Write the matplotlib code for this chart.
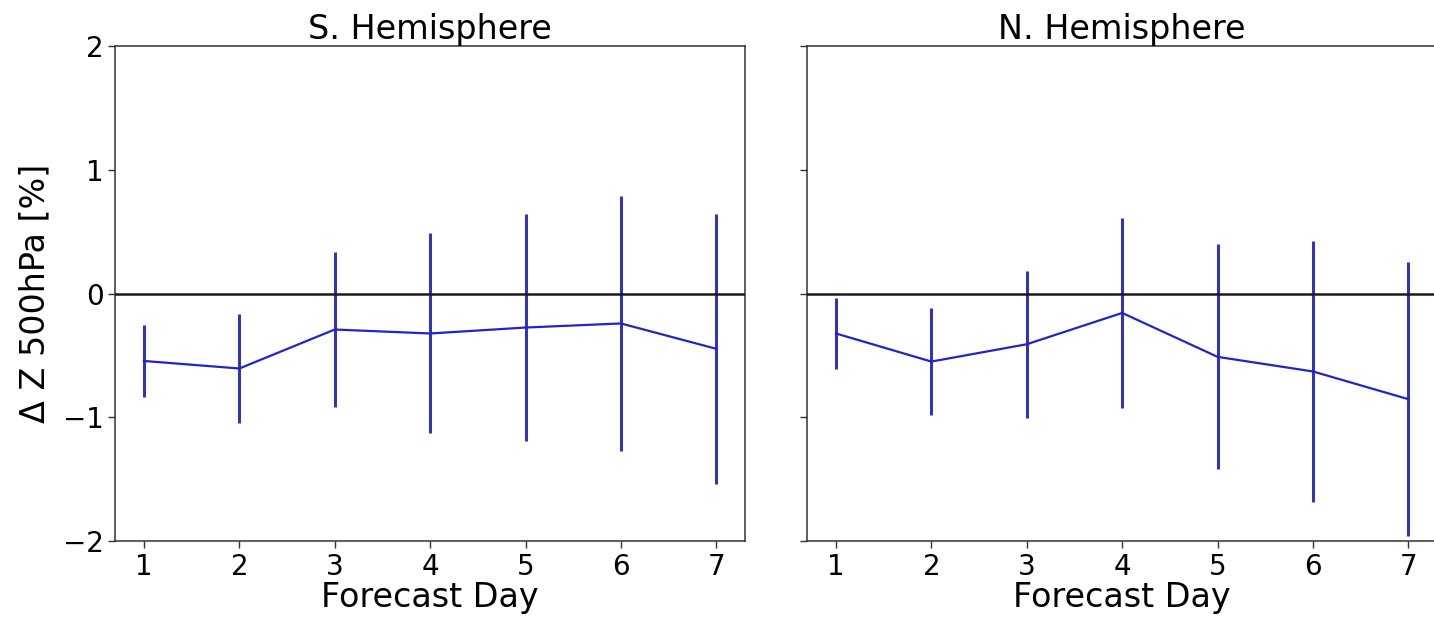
import numpy as np
import matplotlib
matplotlib.use('Agg')
import matplotlib.pyplot as plt

# forecast days and mean change in 500 hPa height with spread, per hemisphere
days = [1, 2, 3, 4, 5, 6, 7]

sh_mean = [-0.545, -0.606, -0.291, -0.323, -0.275, -0.242, -0.447]
sh_err = [0.293, 0.44, 0.628, 0.808, 0.918, 1.028, 1.093]

nh_mean = [-0.323, -0.55, -0.41, -0.157, -0.512, -0.63, -0.854]
nh_err = [0.283, 0.434, 0.593, 0.77, 0.909, 1.056, 1.107]

titles = ['S. Hemisphere', 'N. Hemisphere']

plt.rcParams['font.family'] = 'DejaVu Sans'
plt.rcParams['font.size'] = 20

fig = plt.figure(figsize=(14.34, 6.2), dpi=100)
ax1 = fig.add_axes([0.0804, 0.1274, 0.4391, 0.7984])
ax2 = fig.add_axes([0.563, 0.1274, 0.4391, 0.7984], sharey=ax1)

for ax, mean, err, title in [(ax1, sh_mean, sh_err, titles[0]),
                             (ax2, nh_mean, nh_err, titles[1])]:
    ax.errorbar(days, mean, yerr=err, color='#2323cc', ecolor='#3535a8',
                linewidth=1.6, elinewidth=2.2, capsize=0, zorder=2)
    ax.axhline(0, color='#1a1a1a', linewidth=1.8, zorder=3)
    ax.set_xlim(0.7, 7.3)
    ax.set_ylim(-2, 2)
    ax.set_xticks(days)
    ax.set_yticks([-2, -1, 0, 1, 2])
    ax.set_title(title, fontsize=24, pad=4)
    ax.set_xlabel('Forecast Day', fontsize=24, labelpad=0)
    ax.tick_params(labelsize=20, length=5, width=1, colors='#333333',
                   labelcolor='black')
    for s in ax.spines.values():
        s.set_color('#333333')
        s.set_linewidth(1.1)

ax1.set_ylabel('Δ Z 500hPa [%]', fontsize=24, labelpad=8)
plt.setp(ax2.get_yticklabels(), visible=False)

fig.savefig('out.png', dpi=100)
